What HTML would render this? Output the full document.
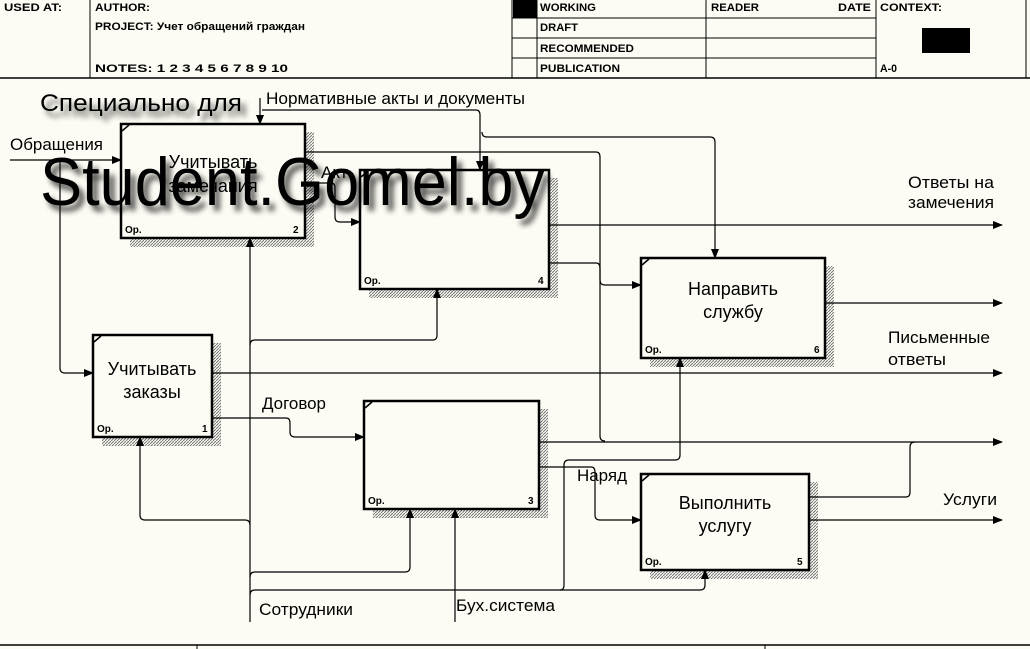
<!DOCTYPE html>
<html><head><meta charset="utf-8"><style>
html,body{margin:0;padding:0;background:#fdfcf4;}
svg{display:block;font-family:"Liberation Sans",sans-serif;}
</style></head><body>
<svg width="1030" height="649" viewBox="0 0 1030 649" xmlns="http://www.w3.org/2000/svg">
<defs>
<pattern id="h" width="3" height="3" patternUnits="userSpaceOnUse"><rect width="3" height="3" fill="#fdfcf4"/><path d="M0,3 L3,0" stroke="#777" stroke-width="1"/></pattern>
<marker id="a" markerWidth="10" markerHeight="8" refX="9" refY="4" orient="auto" markerUnits="userSpaceOnUse"><path d="M0,0 L10,4 L0,8z" fill="#000"/></marker>
<filter id="sh" x="-10%" y="-30%" width="130%" height="180%"><feGaussianBlur in="SourceAlpha" stdDeviation="3"/><feOffset dx="5" dy="6"/><feComponentTransfer><feFuncA type="linear" slope="0.7"/></feComponentTransfer><feMerge><feMergeNode/><feMergeNode in="SourceGraphic"/></feMerge></filter>
</defs>
<rect width="1030" height="649" fill="#fdfcf4"/>
<g stroke="#000" stroke-width="1" fill="none">
<line x1="0" y1="78" x2="1030" y2="78" stroke-width="1.5"/>
<line x1="90" y1="0" x2="90" y2="78"/>
<line x1="512" y1="0" x2="512" y2="78"/>
<line x1="537" y1="0" x2="537" y2="78"/>
<line x1="706" y1="0" x2="706" y2="78"/>
<line x1="876" y1="0" x2="876" y2="78"/>
<line x1="1026" y1="0" x2="1026" y2="78"/>
<line x1="512" y1="18" x2="876" y2="18"/>
<line x1="512" y1="38" x2="876" y2="38"/>
<line x1="512" y1="58" x2="876" y2="58"/>
<line x1="0" y1="645" x2="1030" y2="645" stroke-width="1.5"/>
<line x1="197" y1="645" x2="197" y2="649"/>
<line x1="765" y1="645" x2="765" y2="649"/>
</g>
<rect x="513" y="0" width="24" height="18" fill="#000"/>
<rect x="922" y="28" width="48" height="25" fill="#000"/>
<g font-size="11" fill="#000" font-weight="bold" stroke="none">
<text x="4" y="11" textLength="58" lengthAdjust="spacingAndGlyphs">USED AT:</text>
<text x="95" y="11" textLength="55" lengthAdjust="spacingAndGlyphs">AUTHOR:</text>
<text x="95" y="30" textLength="210" lengthAdjust="spacingAndGlyphs">PROJECT:  Учет обращений граждан</text>
<text x="95" y="72" textLength="193" lengthAdjust="spacingAndGlyphs">NOTES:  1  2  3  4  5  6  7  8  9  10</text>
<text x="540" y="11" textLength="56" lengthAdjust="spacingAndGlyphs">WORKING</text>
<text x="540" y="31" textLength="38" lengthAdjust="spacingAndGlyphs">DRAFT</text>
<text x="540" y="52" textLength="94" lengthAdjust="spacingAndGlyphs">RECOMMENDED</text>
<text x="540" y="72" textLength="80" lengthAdjust="spacingAndGlyphs">PUBLICATION</text>
<text x="711" y="11" textLength="48" lengthAdjust="spacingAndGlyphs">READER</text>
<text x="838" y="11" textLength="33" lengthAdjust="spacingAndGlyphs">DATE</text>
<text x="880" y="11" textLength="62" lengthAdjust="spacingAndGlyphs">CONTEXT:</text>
<text x="880" y="72" textLength="17" lengthAdjust="spacingAndGlyphs">A-0</text>
</g>
<g>
<rect x="305" y="132" width="9" height="115" fill="url(#h)"/><rect x="130" y="238" width="184" height="9" fill="url(#h)"/>
<rect x="549" y="178" width="9" height="120" fill="url(#h)"/><rect x="369" y="289" width="189" height="9" fill="url(#h)"/>
<rect x="825" y="266" width="9" height="101" fill="url(#h)"/><rect x="650" y="358" width="184" height="9" fill="url(#h)"/>
<rect x="212" y="343" width="9" height="103" fill="url(#h)"/><rect x="102" y="437" width="119" height="9" fill="url(#h)"/>
<rect x="539" y="409" width="9" height="109" fill="url(#h)"/><rect x="373" y="509" width="175" height="9" fill="url(#h)"/>
<rect x="809" y="482" width="9" height="97" fill="url(#h)"/><rect x="650" y="570" width="168" height="9" fill="url(#h)"/>
</g>
<g stroke="#000" stroke-width="2.5" fill="#fdfcf4">
<rect x="121" y="124" width="184" height="114"/>
<rect x="360" y="170" width="189" height="119"/>
<rect x="641" y="258" width="184" height="100"/>
<rect x="93" y="335" width="119" height="102"/>
<rect x="364" y="401" width="175" height="108"/>
<rect x="641" y="474" width="168" height="96"/>
</g>
<g stroke="#000" stroke-width="1.5">
<line x1="122" y1="131" x2="129" y2="125"/><line x1="361" y1="177" x2="368" y2="171"/>
<line x1="642" y1="265" x2="649" y2="259"/><line x1="94" y1="342" x2="101" y2="336"/>
<line x1="365" y1="408" x2="372" y2="402"/><line x1="642" y1="481" x2="649" y2="475"/>
</g>
<g font-size="10" fill="#000" font-weight="bold">
<text x="125" y="233">Ор.</text><text x="293" y="233">2</text>
<text x="364" y="284">Ор.</text><text x="538" y="284">4</text>
<text x="645" y="353">Ор.</text><text x="814" y="353">6</text>
<text x="97" y="432">Ор.</text><text x="202" y="432">1</text>
<text x="368" y="504">Ор.</text><text x="528" y="504">3</text>
<text x="645" y="565">Ор.</text><text x="797" y="565">5</text>
</g>
<g font-size="18" fill="#000" text-anchor="middle">
<text x="213" y="168">Учитывать</text><text x="213" y="192">замечания</text>
<text x="733" y="295">Направить</text><text x="733" y="318">службу</text>
<text x="152" y="375">Учитывать</text><text x="152" y="398">заказы</text>
<text x="725" y="509">Выполнить</text><text x="725" y="532">услугу</text>
</g>
<g stroke="#000" stroke-width="1.2" fill="none">
<path d="M10,160 H121" marker-end="url(#a)"/>
<path d="M60,160 V368 Q60,373 65,373 H93" marker-end="url(#a)"/>
<path d="M260,98 V124" marker-end="url(#a)"/>
<path d="M262,110 H476 Q480,110 480,115 V170" marker-end="url(#a)"/>
<path d="M482,132 Q482,137 487,137 H710 Q715,137 715,142 V258" marker-end="url(#a)"/>
<path d="M305,152 H596 Q600,152 600,157 V280 Q600,285 605,285 H641" marker-end="url(#a)"/>
<path d="M305,183 H331 Q335,183 335,188 V217 Q335,222 340,222 H360" marker-end="url(#a)"/>
<path d="M549,225 H1002" marker-end="url(#a)"/>
<path d="M549,263 H596 Q600,263 600,268 V436 Q600,441 605,441"/>
<path d="M539,442 H1002" marker-end="url(#a)"/>
<path d="M825,303 H1002" marker-end="url(#a)"/>
<path d="M212,373 H1002" marker-end="url(#a)"/>
<path d="M212,418 H286 Q290,418 290,423 V432 Q290,437 295,437 H364" marker-end="url(#a)"/>
<path d="M539,467 H591 Q595,467 595,472 V515 Q595,520 600,520 H641" marker-end="url(#a)"/>
<path d="M809,497 H906 Q910,497 910,492 V447 Q910,442 915,442"/>
<path d="M809,520 H1002" marker-end="url(#a)"/>
<path d="M250,622 V238" marker-end="url(#a)"/>
<path d="M250,345 Q250,340 255,340 H433 Q437,340 437,335 V289" marker-end="url(#a)"/>
<path d="M250,525 Q250,520 245,520 H145 Q140,520 140,515 V437" marker-end="url(#a)"/>
<path d="M250,577 Q250,572 255,572 H405 Q410,572 410,567 V509" marker-end="url(#a)"/>
<path d="M250,595 Q250,590 255,590 H700 Q705,590 705,585 V570" marker-end="url(#a)"/>
<path d="M560,590 Q564,590 564,585 V465 Q564,460 569,460 H675 Q680,460 680,455 V358" marker-end="url(#a)"/>
<path d="M455,622 V509" marker-end="url(#a)"/>
</g>
<g font-size="17" fill="#000">
<text x="10" y="150" textLength="93" lengthAdjust="spacingAndGlyphs">Обращения</text>
<text x="266" y="104" textLength="259" lengthAdjust="spacingAndGlyphs">Нормативные акты и документы</text>
<text x="321" y="178">Акт</text>
<text x="908" y="188" textLength="86" lengthAdjust="spacingAndGlyphs">Ответы на</text>
<text x="908" y="208" textLength="86" lengthAdjust="spacingAndGlyphs">замечения</text>
<text x="888" y="343" textLength="102" lengthAdjust="spacingAndGlyphs">Письменные</text>
<text x="888" y="365" textLength="58" lengthAdjust="spacingAndGlyphs">ответы</text>
<text x="262" y="409" textLength="64" lengthAdjust="spacingAndGlyphs">Договор</text>
<text x="577" y="481" textLength="50" lengthAdjust="spacingAndGlyphs">Наряд</text>
<text x="943" y="505" textLength="54" lengthAdjust="spacingAndGlyphs">Услуги</text>
<text x="259" y="615" textLength="94" lengthAdjust="spacingAndGlyphs">Сотрудники</text>
<text x="456" y="611" textLength="99" lengthAdjust="spacingAndGlyphs">Бух.система</text>
</g>
<g filter="url(#sh)" fill="#000">
<text x="40" y="111" font-size="24" textLength="202" lengthAdjust="spacingAndGlyphs">Специально для</text>
<text x="40" y="205" font-size="68" textLength="505" lengthAdjust="spacingAndGlyphs">Student.Gomel.by</text>
</g>
</svg>
</body></html>
